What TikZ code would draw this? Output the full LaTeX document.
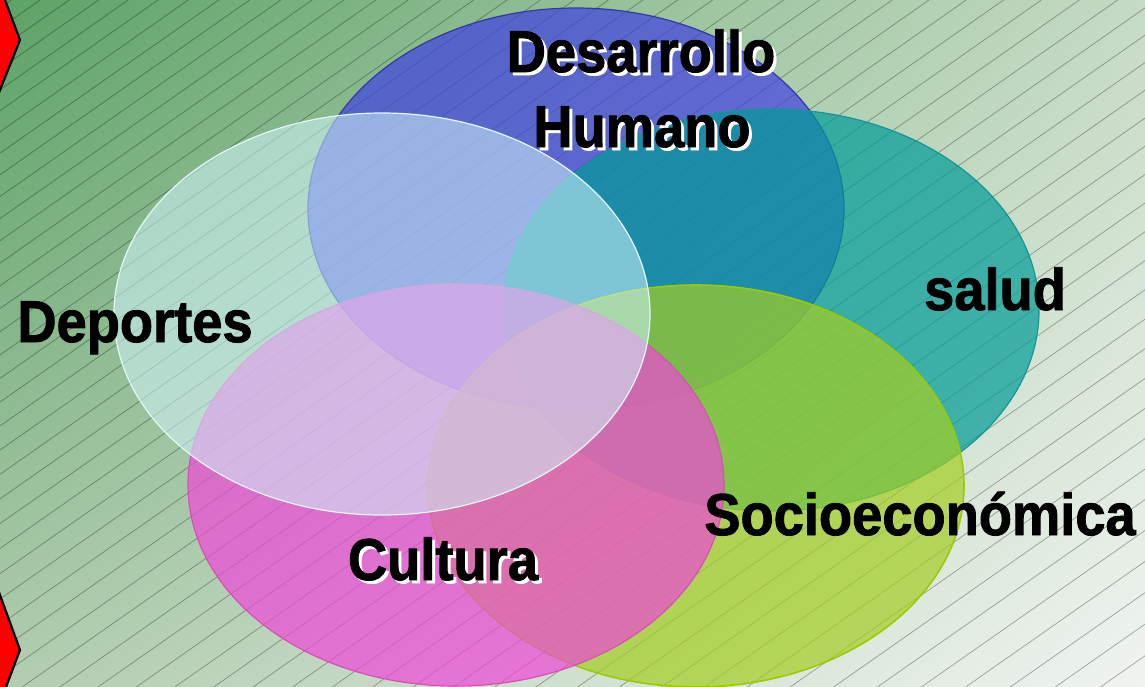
\documentclass[tikz,border=0pt]{standalone}
\usepackage{fontspec}
\newfontfamily\lblfont{Liberation Sans}[FakeStretch=0.92, BoldFeatures={FakeBold=1.5}]
\usetikzlibrary{shapes.geometric,shadings}
\definecolor{bgUL}{RGB}{92,162,102}
\definecolor{bgUR}{RGB}{198,219,196}
\definecolor{bgLL}{RGB}{178,205,176}
\definecolor{bgLR}{RGB}{240,244,240}
\definecolor{vblue}{RGB}{64,64,226}
\definecolor{vblueB}{RGB}{50,56,160}
\definecolor{vteal}{RGB}{0,156,152}
\definecolor{vtealB}{RGB}{18,150,150}
\definecolor{vgreen}{RGB}{164,206,34}
\definecolor{vgreenB}{RGB}{153,204,0}
\definecolor{vpink}{RGB}{240,72,216}
\definecolor{vpinkB}{RGB}{214,80,184}
\definecolor{vwhite}{RGB}{208,244,250}
\definecolor{vwhiteB}{RGB}{226,248,248}
\newcommand\shadowed[1]{\rlap{\kern3pt\raisebox{-3pt}{\color{white}#1}}#1}
\begin{document}
\begin{tikzpicture}[x=1pt,y=-1pt,
  hatch/.style={black, draw opacity=0.33, line width=0.7pt},
  venn/.style={ellipse, minimum width=536pt, minimum height=402pt, inner sep=0pt, line width=1.2pt},
  lbl/.style={font={\lblfont\bfseries\fontsize{59}{70}\selectfont}, anchor=base, inner sep=0pt, text=black},
  redtab/.style={fill=red, draw=black, line width=2.2pt, line join=miter}
]
\useasboundingbox (0,0) rectangle (1145,686);
\begin{scope}
\clip (0,0) rectangle (1145,686);
\shade[upper left=bgUL, upper right=bgUR, lower left=bgLL, lower right=bgLR] (0,0) rectangle (1145,686);
\foreach \n in {0,...,58}{
  \pgfmathsetmacro\c{8+20*\n+0.105*\n*\n}
  \draw[hatch] (0,\c) -- ({\c/0.7},0);
}
\draw[redtab] (-40,-60) -- (-17.5,-60) -- (20,40) -- (-10,115) -- (-40,115) -- cycle;
\draw[redtab] (-40,540) -- (-20,540) -- (20,650) -- (-5,716) -- (-40,716) -- cycle;
\node[venn, fill=vblue, fill opacity=0.7, draw=vblueB] (dh) at (576,209) {};
\node[venn, fill=vteal, fill opacity=0.7, draw=vtealB] (sa) at (771,310) {};
\node[venn, fill=vgreen, fill opacity=0.7, draw=vgreenB, line width=1.6pt] (so) at (696,486) {};
\node[venn, fill=vpink, fill opacity=0.7, draw=vpinkB] (cu) at (456,485) {};
\node[venn, fill=vwhite, fill opacity=0.55, draw=vwhiteB] (de) at (382,314) {};
\end{scope}
\node[lbl] (tDes) at (641,72) {\shadowed{Desarrollo}};
\node[lbl] (tHum) at (642,147) {\shadowed{Humano}};
\node[lbl] (tDep) at (135,342) {Deportes};
\node[lbl] (tSal) at (995,310) {salud};
\node[lbl] (tSoc) at (920,535) {Socioeconómica};
\node[lbl] (tCul) at (443,580) {\shadowed{Cultura}};
\end{tikzpicture}
\end{document}
